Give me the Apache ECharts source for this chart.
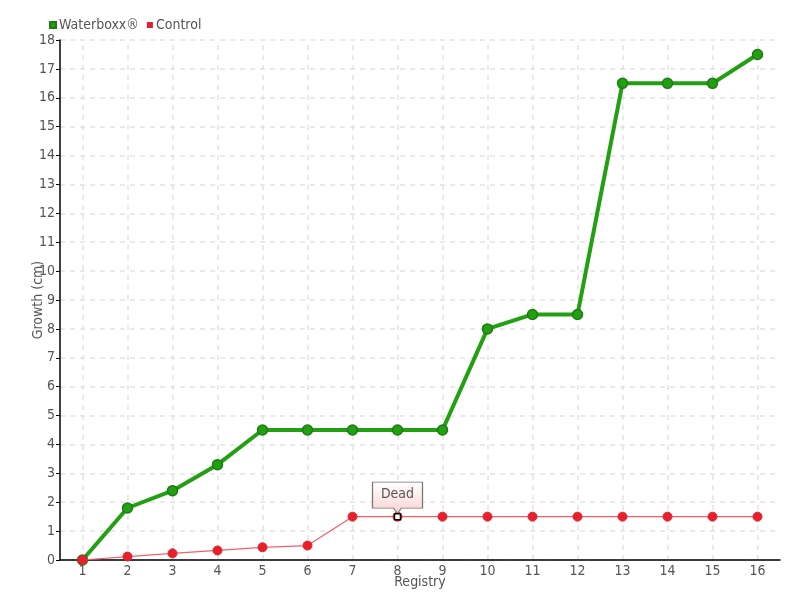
<!DOCTYPE html>
<html><head><meta charset="utf-8">
<script src="https://cdn.jsdelivr.net/npm/echarts@6/dist/echarts.min.js"></script>
<style>html,body{margin:0;padding:0;background:#fff}#c{width:800px;height:600px}</style>
</head><body><div id="c"></div>
<script>
var categories = ['1','2','3','4','5','6','7','8','9','10','11','12','13','14','15','16'];
var waterboxx = [0, 1.8, 2.4, 3.3, 4.5, 4.5, 4.5, 4.5, 4.5, 8, 8.5, 8.5, 16.5, 16.5, 16.5, 17.5];
var control = [0, 0.12, 0.23, 0.33, 0.44, 0.5, 1.5, 1.5, 1.5, 1.5, 1.5, 1.5, 1.5, 1.5, 1.5, 1.5];
var deadIndex = 7;
var deadLabel = 'Dead';

var font = '"Liberation Sans Narrow", "DejaVu Sans Condensed", sans-serif';
var grey = '#555';
var fs = 14;
var chart = echarts.init(document.getElementById('c'));
var gridLines = categories.map(function (c) { return { xAxis: c }; });
chart.setOption({
  animation: false,
  textStyle: { fontFamily: font },
  legend: {
    left: 44, top: 13, itemWidth: 6, itemHeight: 6, itemGap: 8,
    icon: 'rect',
    textStyle: { color: grey, fontSize: fs, fontFamily: font, padding: [0, 0, 0, -2] },
    data: ['Waterboxx®', 'Control']
  },
  grid: { left: 60, right: 20, top: 40, bottom: 40 },
  xAxis: {
    type: 'category', data: categories, boundaryGap: true,
    name: 'Registry', nameLocation: 'middle', nameGap: 15, nameMoveOverlap: false,
    nameTextStyle: { color: grey, fontSize: fs, fontFamily: font },
    axisLine: { lineStyle: { color: '#000', width: 1.5 } },
    axisTick: { alignWithLabel: true, length: 4, lineStyle: { color: '#000' } },
    axisLabel: { color: grey, fontSize: fs, fontFamily: font, margin: 4 },
    splitLine: { show: false }
  },
  yAxis: {
    type: 'value', min: 0, max: 18, interval: 1,
    name: 'Growth (cm)', nameLocation: 'middle', nameGap: 15, nameMoveOverlap: false,
    nameTextStyle: { color: grey, fontSize: fs, fontFamily: font },
    axisLine: { show: true, lineStyle: { color: '#000', width: 1.5 } },
    axisTick: { show: true, length: 4, lineStyle: { color: '#000' } },
    axisLabel: { color: grey, fontSize: fs, fontFamily: font, margin: 5 },
    splitLine: { show: true, lineStyle: { color: '#e3e3e3', type: [5, 5], width: 1.5 } }
  },
  series: [
    {
      name: 'Waterboxx®', type: 'line', data: waterboxx,
      symbol: 'circle', symbolSize: 10, z: 2,
      lineStyle: { color: '#22a012', width: 4 },
      itemStyle: { color: '#22a012', borderColor: '#1b7d12', borderWidth: 1.5 },
      markLine: {
        silent: true, symbol: 'none', z: 0, label: { show: false },
        lineStyle: { color: '#e3e3e3', type: [5, 5], width: 1.5 },
        emphasis: { disabled: true },
        data: gridLines
      }
    },
    {
      name: 'Control', type: 'line', data: control,
      symbol: 'circle', symbolSize: 9, z: 3,
      lineStyle: { color: '#f2606c', width: 1.2 },
      itemStyle: { color: '#e8202c', borderColor: '#e8202c' },
      markPoint: {
        silent: true,
        data: [
          {
            coord: [categories[deadIndex], control[deadIndex]],
            symbol: 'path://M0,0 H50 V26 H29 L25,31 L21,26 H0 Z',
            symbolSize: [50, 31], symbolKeepAspect: false,
            symbolOffset: [0, -19],
            itemStyle: {
              borderColor: '#777', borderWidth: 1,
              color: { type: 'linear', x: 0, y: 0, x2: 0, y2: 1,
                colorStops: [{ offset: 0, color: '#ffffff' }, { offset: 1, color: '#fbd3d3' }] }
            },
            label: { show: true, position: 'inside', offset: [0, -3], formatter: deadLabel,
              color: grey, fontSize: 14, fontFamily: font }
          },
          {
            coord: [categories[deadIndex], control[deadIndex]],
            symbol: 'rect', symbolSize: 6,
            itemStyle: { color: '#fff', borderColor: '#000', borderWidth: 1.5 },
            label: { show: false }
          }
        ]
      }
    }
  ]
});
</script></body></html>
